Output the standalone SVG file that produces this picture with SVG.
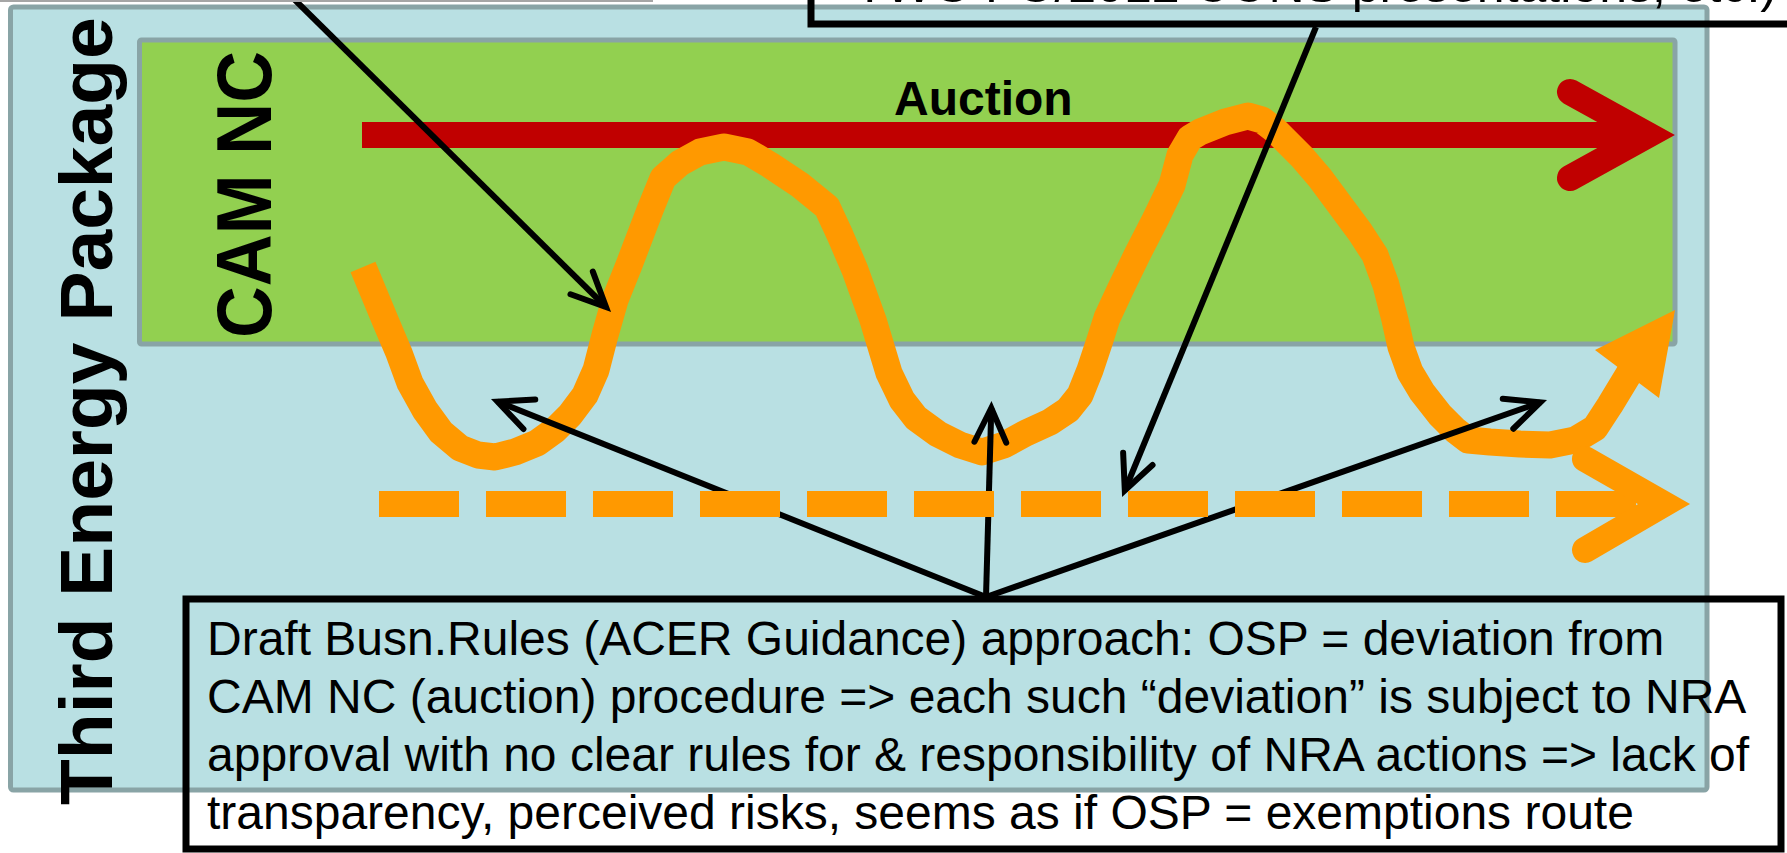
<svg xmlns="http://www.w3.org/2000/svg" width="1787" height="853" viewBox="0 0 1787 853">
<style>
.t{font-family:"Liberation Sans",Arial,sans-serif;fill:#000}
.b{font-weight:bold}
.note{font-size:48px}
.frame{stroke:#89A4A6;stroke-width:5}
.box{fill:none;stroke:#000;stroke-width:7}
.conn{fill:none;stroke:#000;stroke-width:6;marker-end:url(#ah)}
</style>
<defs>
<marker id="ah" viewBox="-10 -6 12 12" refX="0" refY="0" markerWidth="12" markerHeight="12" markerUnits="strokeWidth" orient="auto" overflow="visible">
<path d="M-5.7,-2.65 L0,0 L-5.7,2.65" fill="none" stroke="#000" stroke-width="1" stroke-linecap="round" stroke-linejoin="miter"/>
</marker>
</defs>
<rect width="1787" height="853" fill="#fff"/>
<g id="third-energy-package">
<rect class="frame" x="10.5" y="7" width="1696.5" height="783" rx="3" fill="#B9E0E3"/>
<text class="t b" font-size="75" transform="translate(112,805) rotate(-90)">Third Energy Package</text>
</g>
<g id="cam-nc">
<rect class="frame" x="139.5" y="40" width="1535.5" height="304" rx="2" fill="#92D050"/>
<text class="t b" font-size="78" textLength="287" lengthAdjust="spacingAndGlyphs" transform="translate(271,338) rotate(-90)">CAM NC</text>
</g>
<g id="auction">
<text class="t b" x="894" y="115" font-size="48">Auction</text>
<line x1="362" y1="135" x2="1648" y2="135" stroke="#C00000" stroke-width="26"/>
<polyline points="1570,92 1648,135 1570,178" fill="none" stroke="#C00000" stroke-width="26" stroke-linecap="round" stroke-linejoin="miter" stroke-miterlimit="10"/>
</g>
<g id="osp-curve">
<path d="M363,267 L385,320 L399,353 L410,383 L425,410 L441,432 L460,448 L478,455 L495,457 L515,452 L537,443 L555,430 L570,415 L585,395 L596,370 L605,335 L615,300 L629,265 L650,210 L663,178 L680,163 L700,152 L724,147 L748,152 L770,165 L800,185 L827,207 L840,235 L855,270 L873,320 L889,373 L902,400 L916,418 L938,434 L960,445 L982,452 L1004,445 L1026,433 L1050,422 L1068,410 L1080,395 L1090,370 L1100,340 L1107,318 L1120,290 L1137,255 L1155,220 L1172,185 L1180,155 L1190,138 L1200,132 L1225,122 L1248,116 L1262,120 L1275,130 L1302,157 L1320,178 L1340,205 L1360,232 L1375,255 L1386,285 L1395,320 L1401,347 L1410,372 L1422,392 L1440,415 L1455,430 L1468,440 L1490,442 L1520,444 L1550,445 L1575,440 L1595,428 L1610,405 L1630,372" fill="none" stroke="#FF9900" stroke-width="27" stroke-linejoin="round"/>
<polygon points="1675,310 1595,350 1659,398" fill="#FF9900"/>
</g>
<g id="connectors">
<line class="conn" x1="293" y1="-2" x2="606" y2="307"/>
<line class="conn" x1="1316" y1="27" x2="1124.8" y2="490.5"/>
<line class="conn" x1="986" y1="597" x2="497.6" y2="401.6"/>
<line class="conn" x1="986" y1="597" x2="991.3" y2="408"/>
<line class="conn" x1="986" y1="597" x2="1540.3" y2="402.4"/>
</g>
<g id="dashed-arrow">
<line x1="379" y1="504" x2="1636" y2="504" stroke="#FF9900" stroke-width="26" stroke-dasharray="80 27"/>
<polyline points="1585,459 1664,504 1585,550" fill="none" stroke="#FF9900" stroke-width="26" stroke-linecap="round" stroke-linejoin="miter" stroke-miterlimit="10"/>
</g>
<g id="top-left-note">
<rect x="-10" y="-100" width="662" height="101" fill="none" stroke="#A6A6A6" stroke-width="2"/>
</g>
<g id="top-right-note">
<rect class="box" x="811" y="-100" width="1000" height="124" stroke-width="8"/>
<text class="t" x="1777" y="2" font-size="50" text-anchor="end">TWG FG/2012 CONS presentations, etc.)</text>
</g>
<g id="draft-rules-note">
<rect class="box" x="186" y="599" width="1595" height="250"/>
<text class="t note" x="207" y="655">Draft Busn.Rules (ACER Guidance) approach: OSP = deviation from</text>
<text class="t note" x="207" y="713">CAM NC (auction) procedure =&gt; each such “deviation” is subject to NRA</text>
<text class="t note" x="207" y="771">approval with no clear rules for &amp; responsibility of NRA actions =&gt; lack of</text>
<text class="t note" x="207" y="829">transparency, perceived risks, seems as if OSP = exemptions route</text>
</g>
</svg>
